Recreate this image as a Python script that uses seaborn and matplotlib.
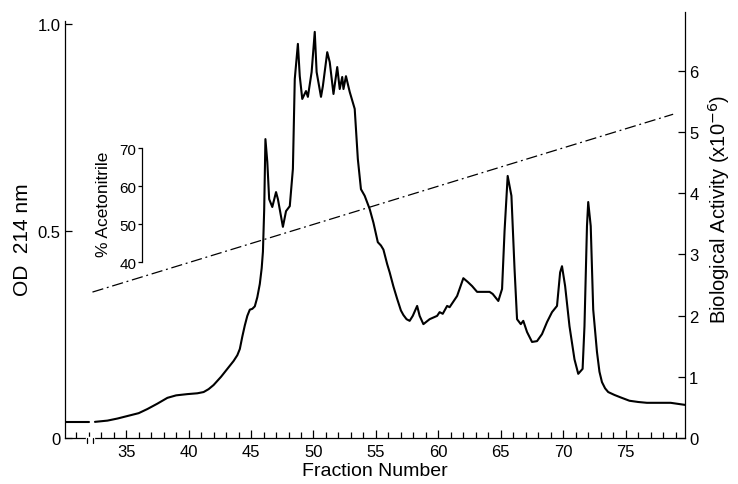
import matplotlib
matplotlib.use("Agg")
import matplotlib.pyplot as plt
import matplotlib.transforms as mtransforms
import seaborn as sns
import numpy as np
import pandas as pd
from matplotlib.ticker import MultipleLocator, FixedLocator

# ---------------- data ----------------
seg1_fraction = [30.1, 32.0]
seg1_od = [0.039, 0.039]

fraction = [32.5, 33.5, 34.3, 35.1, 36.0, 36.7, 37.5, 38.3, 39.0, 39.9, 40.7, 41.2, 41.6, 42.0,
            42.6, 43.1, 43.6, 43.9, 44.1, 44.3, 44.5, 44.7, 44.9, 45.1, 45.3, 45.5, 45.7,
            45.85, 45.95, 46.05, 46.15, 46.3, 46.45, 46.7, 47.0, 47.15, 47.55, 47.8, 48.1,
            48.35, 48.5, 48.75, 48.9, 49.1, 49.4, 49.55, 49.85, 50.1, 50.25, 50.6, 50.75,
            51.1, 51.3, 51.6, 51.9, 52.1, 52.3, 52.4, 52.6, 52.9, 53.3, 53.55, 53.8, 54.1,
            54.5, 54.8, 55.15, 55.4, 55.6, 55.9, 56.1, 56.4, 56.7, 57.0, 57.2, 57.45, 57.7,
            57.95, 58.3, 58.5, 58.8, 59.3, 59.9, 60.1, 60.35, 60.7, 60.9, 61.5, 61.7, 62.0,
            62.35, 62.7, 63.1, 64.1, 64.35, 64.8, 65.1, 65.3, 65.55, 65.85, 66.1, 66.3, 66.6,
            66.8, 67.1, 67.5, 67.9, 68.3, 68.7, 69.1, 69.5, 69.75, 69.9, 70.15, 70.5, 70.9,
            71.2, 71.55, 71.7, 71.9, 72.0, 72.2, 72.4, 72.7, 72.9, 73.1, 73.35, 73.6, 74.1,
            74.6, 75.3, 76.0, 76.7, 78.6, 79.75]
od214 = [0.039, 0.042, 0.047, 0.053, 0.060, 0.070, 0.083, 0.097, 0.103, 0.106, 0.108, 0.111, 0.118,
         0.128, 0.148, 0.167, 0.186, 0.200, 0.215, 0.245, 0.272, 0.295, 0.310, 0.312, 0.318, 0.340,
         0.372, 0.410, 0.450, 0.550, 0.722, 0.667, 0.577, 0.558, 0.594, 0.577, 0.510, 0.548, 0.560,
         0.650, 0.867, 0.952, 0.874, 0.819, 0.838, 0.824, 0.884, 0.981, 0.884, 0.824, 0.850,
         0.932, 0.908, 0.831, 0.896, 0.843, 0.872, 0.843, 0.874, 0.836, 0.795, 0.674, 0.601, 0.585,
         0.553, 0.520, 0.473, 0.465, 0.455, 0.420, 0.400, 0.366, 0.336, 0.308, 0.297, 0.287, 0.283,
         0.295, 0.319, 0.295, 0.275, 0.287, 0.295, 0.304, 0.300, 0.319, 0.316, 0.343, 0.360, 0.386,
         0.377, 0.367, 0.353, 0.353, 0.348, 0.331, 0.360, 0.500, 0.633, 0.585, 0.408, 0.287, 0.275,
         0.283, 0.256, 0.232, 0.234, 0.251, 0.280, 0.304, 0.319, 0.400, 0.415, 0.367, 0.270, 0.190,
         0.155, 0.167, 0.270, 0.512, 0.570, 0.512, 0.310, 0.208, 0.160, 0.135, 0.120, 0.111, 0.104,
         0.098, 0.090, 0.087, 0.085, 0.085, 0.080]

gradient_fraction = [32.3, 78.8]
gradient_pct = [32.1, 78.9]

x_ticks = [35, 40, 45, 50, 55, 60, 65, 70, 75]
od_ticks = [0, 0.5, 1.0]
od_ticklabels = ["0", "0.5", "1.0"]
bio_ticks = [0, 1, 2, 3, 4, 5, 6]
acn_ticks = [40, 50, 60, 70]

# ---------------- figure ----------------
sns.set_theme(style="ticks")
plt.rcParams['font.family'] = ['Liberation Sans', 'DejaVu Sans']

fig = plt.figure(figsize=(7.38, 4.85), dpi=100)
ax = fig.add_axes([65/738, 1-439/485, 620/738, 426/485])
ax.set_facecolor("white")
fig.patch.set_facecolor("white")

df1 = pd.DataFrame({"Fraction": seg1_fraction, "OD": seg1_od})
df2 = pd.DataFrame({"Fraction": fraction, "OD": od214})
sns.lineplot(data=df1, x="Fraction", y="OD", ax=ax, color="black", lw=1.5,
             estimator=None, sort=False)
sns.lineplot(data=df2, x="Fraction", y="OD", ax=ax, color="black", lw=1.5,
             estimator=None, sort=False)

ax.set_xlim(30.1, 79.75)
ax.set_ylim(0, 1.029)
ax.xaxis.set_major_locator(FixedLocator(x_ticks))
ax.xaxis.set_minor_locator(MultipleLocator(1))
ax.set_yticks(od_ticks)
ax.set_yticklabels(od_ticklabels)
ax.tick_params(axis="x", which="major", direction="in", length=6, width=0.9,
               labelsize=12, pad=4, colors="black")
ax.tick_params(axis="x", which="minor", direction="in", length=4, width=0.9, colors="black")
ax.tick_params(axis="y", direction="in", length=5, width=0.9, labelsize=12, pad=3, colors="black")
for s in ["top", "right"]:
    ax.spines[s].set_visible(False)
for s in ["left", "bottom"]:
    ax.spines[s].set_color("black")
    ax.spines[s].set_linewidth(0.9)
ax.spines["left"].set_bounds(0, 1.008)
ax.set_xlabel("Fraction Number", fontsize=14, color="black")
ax.xaxis.set_label_coords(0.5, -0.056)
ax.set_ylabel("OD  214 nm", fontsize=15, color="black")
ax.yaxis.set_label_coords(-0.053, 0.467)

# axis break on the fraction axis
trans = mtransforms.blended_transform_factory(ax.transData, ax.transAxes)
ax.plot([31.85, 32.35], [0, 0], color="white", lw=2.5, transform=trans, clip_on=False, zorder=5)
ax.plot([31.85, 31.85], [-0.012, 0.0], color="black", lw=0.9, transform=trans, clip_on=False, zorder=6)
ax.plot([32.35, 32.35], [-0.012, 0.0], color="black", lw=0.9, transform=trans, clip_on=False, zorder=6)

# right axis: biological activity
ax2 = ax.twinx()
ax2.set_ylim(0, 6.96)
ax2.set_yticks(bio_ticks)
ax2.tick_params(axis="y", direction="in", length=5, width=0.9, labelsize=12, pad=3, colors="black")
for s in ["top", "left", "bottom"]:
    ax2.spines[s].set_visible(False)
ax2.spines["right"].set_color("black")
ax2.spines["right"].set_linewidth(0.9)
ax2.set_ylabel("Biological Activity (x10$^{-6}$)", fontsize=14.5, color="black")
ax2.yaxis.set_label_coords(1.034, 0.54)

# inset axis: % acetonitrile
ax3 = ax.twinx()
ax3.set_ylim(-6.3, 105.8)
ax3.yaxis.set_ticks_position("left")
ax3.yaxis.set_label_position("left")
for s in ["top", "right", "bottom"]:
    ax3.spines[s].set_visible(False)
ax3.spines["left"].set_position(("axes", 0.124))
ax3.spines["left"].set_bounds(40, 70)
ax3.spines["left"].set_color("black")
ax3.spines["left"].set_linewidth(0.9)
ax3.set_yticks(acn_ticks)
ax3.yaxis.set_minor_locator(FixedLocator([40, 70]))
ax3.tick_params(axis="y", which="major", direction="out", length=3, width=0.9,
                labelsize=11, pad=1, colors="black")
ax3.tick_params(axis="y", which="minor", direction="in", length=4, width=0.9, colors="black")
ax3.set_ylabel("% Acetonitrile", fontsize=12.5, color="black")
ax3.yaxis.set_label_coords(0.075, 0.55)

dfg = pd.DataFrame({"Fraction": gradient_fraction, "Pct": gradient_pct})
sns.lineplot(data=dfg, x="Fraction", y="Pct", ax=ax3, color="black", lw=0.9,
             estimator=None, sort=False)
ax3.lines[-1].set_linestyle((0, (9, 3, 1.5, 3)))
ax3.set_xlabel("")

fig.savefig("out.png", dpi=100, facecolor="white")
